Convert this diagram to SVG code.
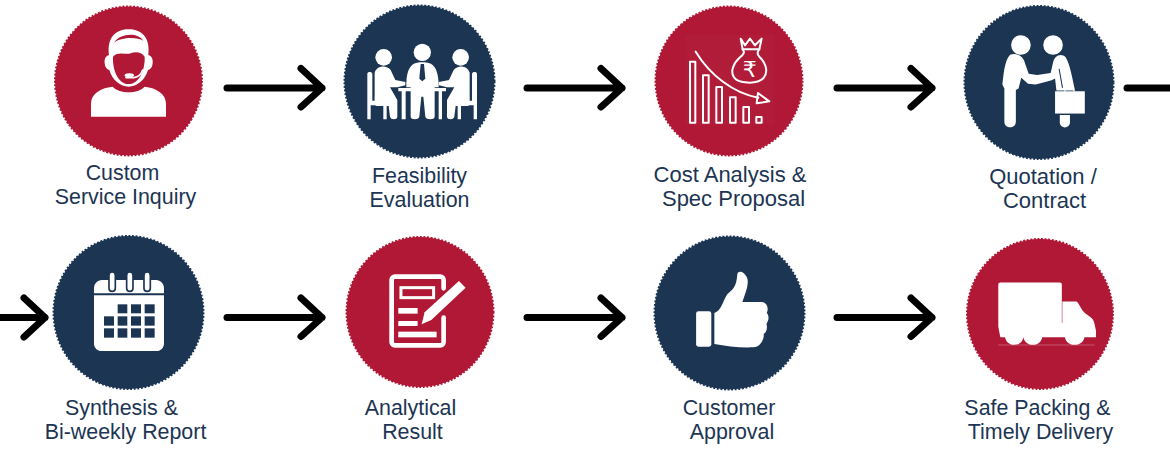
<svg xmlns="http://www.w3.org/2000/svg" width="1170" height="451" viewBox="0 0 1170 451">
<style>
.lbl{font-family:"Liberation Sans",Arial,sans-serif;font-size:21.4px;fill:#1c3553;text-anchor:middle}
.big{font-size:22px}
.red{fill:#b01836;stroke:#b01836}
.navy{fill:#1c3553;stroke:#1c3553}
.disc{stroke-width:2;stroke-dasharray:1.9 1.7}
.w{fill:#fff}
.o{fill:none;stroke:#fff;stroke-linecap:round;stroke-linejoin:round}
.arr{fill:none;stroke:#000;stroke-width:7;stroke-linecap:round;stroke-linejoin:round}
</style>
<defs>
<path id="arrow" class="arr" d="M0,0H95M74,-19.500L95,0L74,19"/>
</defs>
<rect width="1170" height="451" fill="#fff"/>
<g id="connectors">
<use href="#arrow" x="227" y="88"/>
<use href="#arrow" x="527" y="88"/>
<use href="#arrow" x="837" y="88"/>
<path class="arr" d="M1127,88H1175"/>
<path class="arr" d="M-5,317.500H45M24,298L45,317.500L24,337"/>
<use href="#arrow" x="227" y="317.500"/>
<use href="#arrow" x="527" y="317.500"/>
<use href="#arrow" x="837" y="317.500"/>
</g>

<g id="node-inquiry">
<ellipse class="red disc" cx="128.500" cy="81" rx="73.500" ry="74.500"/>
<g transform="translate(40,0) scale(.3333)">
<path class="w" d="M153,350V312C153,282 180,264 218,260C238,282 294,282 314,260C350,264 378,282 378,312V350Z"/>
<path class="w" d="M207,165C200,110 230,88 266,88C302,88 332,110 325,165C336,168 339,178 338,190C337,202 332,208 324,210C316,240 290,260 266,260C242,260 216,240 208,210C200,208 195,202 194,190C193,178 196,168 207,165Z"/>
<path d="M219,170C235,152 260,166 272,160C285,154 305,155 314,170C316,205 300,252 266,252C232,252 217,205 219,170Z" fill="#b01836"/>
<path d="M222,128C240,100 292,96 310,122C290,110 242,112 222,128Z" fill="#b01836"/>
<path class="o" stroke-width="5" d="M258,233H282C296,231 304,222 308,210"/>
<ellipse class="w" cx="268" cy="226" rx="14" ry="6"/>
</g>
</g>

<g id="node-feasibility">
<ellipse class="navy disc" cx="419.500" cy="81.500" rx="75" ry="76"/>
<g transform="translate(340,0) scale(.3333)">
<circle class="w" cx="131" cy="172" r="25"/><circle class="w" cx="247" cy="157" r="26"/><circle class="w" cx="362" cy="172" r="25"/>
<path class="w" d="M104,218C110,196 140,194 152,210L166,240L196,246V256L172,262L150,262L172,300V350C172,360 152,360 150,350L146,318H110C102,318 104,300 104,280Z"/>
<path class="w" d="M389,218C383,196 353,194 341,210L327,240L297,246V256L321,262L343,262L321,300V350C321,360 341,360 343,350L347,318H383C391,318 389,300 389,280Z"/>
<path class="w" d="M199,250C200,205 215,188 240,187H254C280,188 294,205 296,250V262H284V350C284,360 258,360 256,350L250,290H244L238,350C236,360 212,360 212,350V262H199Z"/>
<path d="M242,192H252L256,236L247,244L238,236Z" fill="#1c3553"/>
<path class="w" d="M175,264H318V274H306V358H296V274H197V358H185V274H175Z"/>
<path class="w" d="M82,222C82,214 96,214 97,222V302H140V358H130V316H92V358H82Z"/>
<path class="w" d="M411,222C411,214 397,214 396,222V302H353V358H363V316H401V358H411Z"/>
</g>
</g>

<g id="node-cost">
<ellipse class="red disc" cx="729" cy="81" rx="73.500" ry="74.500"/>
<g transform="translate(650,0) scale(.3333)">
<rect x="105" y="105" width="270" height="270" fill="#fff" opacity=".02"/>
<g class="o" stroke-width="6">
<rect x="120" y="185" width="16" height="183"/><rect x="159" y="226" width="17" height="142"/><rect x="199" y="261" width="17" height="107"/><rect x="240" y="292" width="17" height="76"/><rect x="280" y="321" width="17" height="47"/><rect x="319" y="351" width="16" height="17"/>
<path d="M137,155C180,225 250,280 325,293"/>
<path d="M324,279L358,304L320,310Z"/>
<path d="M272,116L285,136L300,116L315,136L335,116L328,148H278Z"/>
<path d="M278,148C285,156 282,162 270,172C250,190 240,215 252,232C262,250 320,255 340,235C358,215 345,185 328,170C320,162 322,155 328,148"/>
</g>
<text x="299" y="231" text-anchor="middle" font-family="'DejaVu Sans',sans-serif" font-size="66" fill="#fff">₹</text>
</g>
</g>

<g id="node-quotation">
<ellipse class="navy disc" cx="1039" cy="82.500" rx="74.500" ry="76.500"/>
<g transform="translate(640,0) scale(.338)">
<circle class="w" cx="1127" cy="133" r="29"/><circle class="w" cx="1222" cy="133" r="29"/>
<path class="w" d="M1095,162C1115,155 1135,165 1140,190L1150,218L1175,222L1215,216L1222,185C1226,165 1245,155 1260,170C1272,190 1280,235 1287,268H1232L1228,232C1215,240 1200,242 1185,246L1170,250L1148,248L1128,230L1120,262L1112,266V360C1112,382 1078,382 1078,360V262L1072,250C1076,220 1078,180 1095,162Z"/>
<rect class="w" x="1228" y="270" width="88" height="66"/>
<path d="M1240,204L1250,260" stroke="#1c3553" stroke-width="3" fill="none"/>
<path class="o" stroke-width="3" d="M1256,270L1260,264H1280L1285,270"/>
<path class="w" d="M1242,340H1272V362C1272,382 1242,382 1242,362Z"/>
</g>
</g>

<g id="node-synthesis">
<ellipse class="navy disc" cx="128.500" cy="312.500" rx="75" ry="76.500"/>
<g transform="translate(0,225) scale(.3333)">
<path class="w" d="M282,205V190C282,176 292,165 306,165H468C482,165 492,176 492,190V205Z"/>
<path class="w" d="M282,211H492V356C492,368 482,378 470,378H304C292,378 282,368 282,356Z"/>
<g fill="#fff" stroke="#1c3553" stroke-width="5">
<rect x="327" y="141" width="19" height="58" rx="9.500"/><rect x="380" y="141" width="19" height="58" rx="9.500"/><rect x="432" y="141" width="19" height="58" rx="9.500"/>
</g>
<g fill="#1c3553">
<rect x="353" y="238" width="29" height="27"/><rect x="393" y="238" width="30" height="27"/><rect x="434" y="238" width="30" height="27"/>
<rect x="312" y="274" width="30" height="28"/><rect x="353" y="274" width="29" height="28"/><rect x="393" y="274" width="30" height="28"/><rect x="434" y="274" width="30" height="28"/>
<rect x="312" y="310" width="30" height="28"/><rect x="353" y="310" width="29" height="28"/><rect x="393" y="310" width="30" height="28"/><rect x="434" y="310" width="30" height="28"/>
</g>
</g>
</g>

<g id="node-result">
<ellipse class="red disc" cx="420" cy="312" rx="73.500" ry="75"/>
<g transform="translate(0,225) scale(.3333)">
<path class="o" stroke-width="14" d="M1331,190V165C1331,159 1327,155 1321,155H1185C1179,155 1175,159 1175,165V351C1175,357 1179,361 1185,361H1321C1327,361 1331,357 1331,351V278"/>
<rect x="1203" y="188" width="98" height="30" fill="none" stroke="#fff" stroke-width="9"/>
<rect class="w" x="1195" y="249" width="58" height="17"/><rect class="w" x="1195" y="288" width="58" height="15"/><rect class="w" x="1195" y="320" width="115" height="17"/>
<path class="w" d="M1377,168L1397,188L1294,285L1265,298L1274,262Z"/>
</g>
</g>

<g id="node-approval">
<ellipse class="navy disc" cx="729.500" cy="313" rx="75" ry="76.500"/>
<g transform="translate(640,225) scale(.338)">
<rect class="w" x="166" y="255" width="45" height="105" rx="7"/>
<path class="w" d="M220,260C240,255 245,225 258,205C275,190 285,185 288,145C292,132 312,140 318,160C322,180 310,205 303,228H360C375,230 382,245 375,260C384,270 380,285 374,292C378,305 374,318 366,322C368,340 355,362 335,362C295,364 255,358 220,352Z"/>
</g>
</g>

<g id="node-delivery">
<ellipse class="red disc" cx="1040" cy="314" rx="73" ry="75"/>
<g transform="translate(640,225) scale(.338)">
<path class="w" d="M1060,176C1060,172 1063,170 1066,170H1242C1246,170 1248,172 1248,176V290H1249.500V226H1290C1296,226 1300,240 1312,256C1325,270 1342,274 1344,290L1349,312V332H1315C1310,362 1262,362 1257,332H1190C1185,362 1140,362 1134,332C1130,362 1085,362 1080,332H1066L1060,300Z"/>
<path d="M1060,355H1345" stroke="#fff" stroke-width="1.500" opacity=".55"/>
</g>
</g>

<g id="labels">
<text class="lbl" x="122.500" y="179.500">Custom</text><text class="lbl" x="125.500" y="203.500">Service Inquiry</text>
<text class="lbl" x="419.500" y="182.500">Feasibility</text><text class="lbl" x="419.500" y="206.500">Evaluation</text>
<text class="lbl big" x="730" y="181.500">Cost Analysis &amp;</text><text class="lbl big" x="733.500" y="205.500">Spec Proposal</text>
<text class="lbl big" x="1043" y="183.500">Quotation /</text><text class="lbl big" x="1044.500" y="207.500">Contract</text>
<text class="lbl" x="121.500" y="414.500">Synthesis &amp;</text><text class="lbl" x="125.500" y="438.500">Bi-weekly Report</text>
<text class="lbl" x="410.500" y="414.500">Analytical</text><text class="lbl" x="412.500" y="438.500">Result</text>
<text class="lbl" x="729" y="414.500">Customer</text><text class="lbl" x="732" y="438.500">Approval</text>
<text class="lbl" x="1037.500" y="414.500">Safe Packing &amp;</text><text class="lbl" x="1040.500" y="438.500">Timely Delivery</text>
</g>
</svg>
